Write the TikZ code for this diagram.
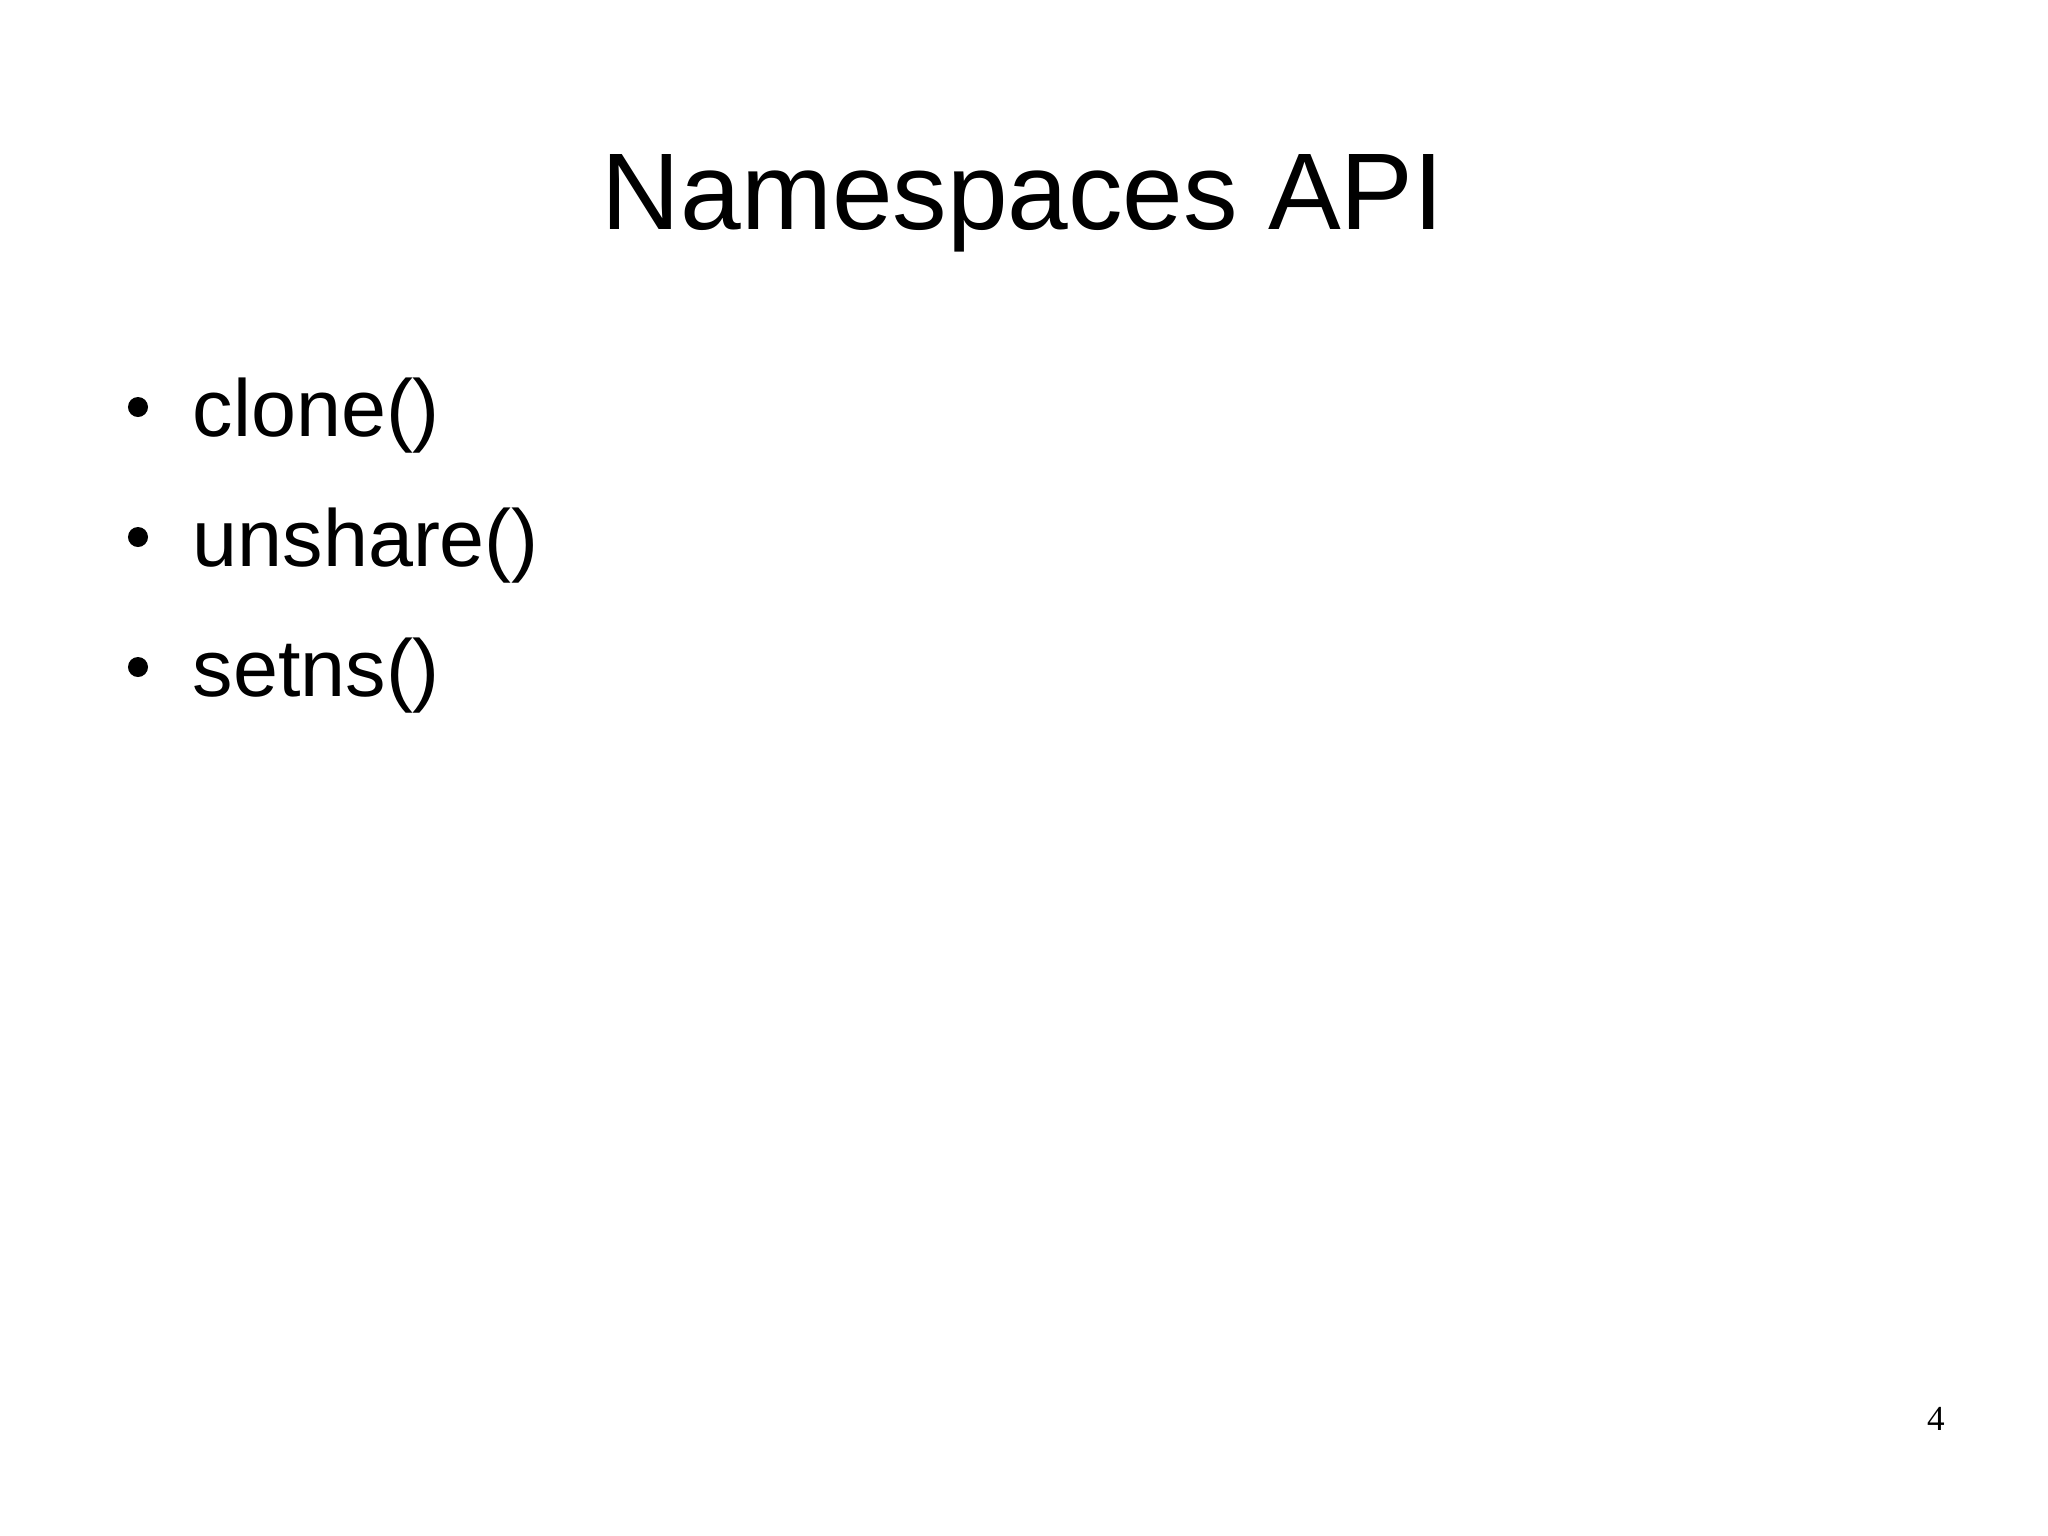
\documentclass[tikz,border=0pt]{standalone}
\usepackage{fontspec}
\setmainfont{Liberation Sans}
\newfontfamily\serifpn{Liberation Serif}
\begin{document}
\begin{tikzpicture}[x=0.01cm,y=-0.01cm,
  titletext/.style={anchor=base,inner sep=0pt,font=\fontsize{31pt}{36pt}\selectfont},
  itemtext/.style={anchor=base west,inner sep=0pt,font=\fontsize{23pt}{28pt}\selectfont},
  dot/.style={circle,fill=black,inner sep=0pt,minimum size=0.2cm}]
\useasboundingbox (0,0) rectangle (2048,1535);
\node[titletext] (title) at (1023,229) {Namespaces API};
\node[itemtext] (i1) at (192,436) {clone()};
\node[itemtext] (i2) at (192,566) {unshare()};
\node[itemtext] (i3) at (192,696) {setns()};
\node[dot] (b1) at (138,407) {};
\node[dot] (b2) at (138,537) {};
\node[dot] (b3) at (138,667) {};
\node[anchor=base,inner sep=0pt,font=\serifpn\fontsize{10pt}{12pt}\selectfont] (pn) at (1936,1430) {4};
\end{tikzpicture}
\end{document}
